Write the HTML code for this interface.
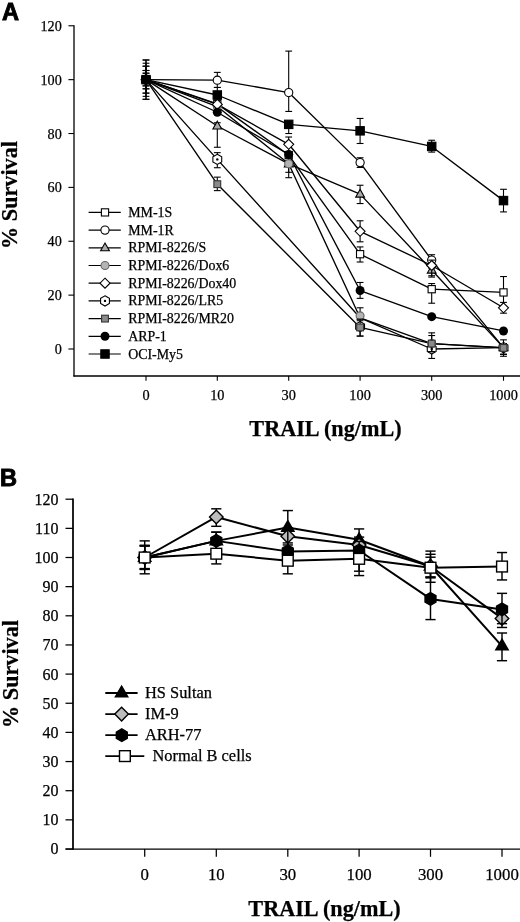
<!DOCTYPE html><html><head><meta charset="utf-8"><style>
html,body{margin:0;padding:0;background:#fff;}body{width:520px;height:922px;overflow:hidden;}
svg{display:block;filter:grayscale(1);} .t{font-family:"Liberation Serif",serif;fill:#000;stroke:#000;stroke-width:0.25px;} .s{font-family:"Liberation Sans",sans-serif;font-weight:bold;fill:#000;}
</style></head><body>
<svg width="520" height="922" viewBox="0 0 520 922">
<text class="s" x="1.9" y="19.9" font-size="23.6" stroke="#000" stroke-width="0.9">A</text>
<g stroke="#000" stroke-width="1.3" fill="none">
<line x1="74" y1="25.2" x2="74" y2="376.6"/>
<line x1="73.4" y1="376" x2="520" y2="376"/>
</g><g stroke="#000" stroke-width="1.1" fill="none">
<line x1="68.4" y1="349" x2="74" y2="349"/>
<line x1="68.4" y1="295.13" x2="74" y2="295.13"/>
<line x1="68.4" y1="241.26" x2="74" y2="241.26"/>
<line x1="68.4" y1="187.39" x2="74" y2="187.39"/>
<line x1="68.4" y1="133.52" x2="74" y2="133.52"/>
<line x1="68.4" y1="79.65" x2="74" y2="79.65"/>
<line x1="68.4" y1="25.78" x2="74" y2="25.78"/>
<line x1="146" y1="376" x2="146" y2="380.8"/>
<line x1="217.3" y1="376" x2="217.3" y2="380.8"/>
<line x1="288.7" y1="376" x2="288.7" y2="380.8"/>
<line x1="360.1" y1="376" x2="360.1" y2="380.8"/>
<line x1="431.7" y1="376" x2="431.7" y2="380.8"/>
<line x1="503.5" y1="376" x2="503.5" y2="380.8"/>
</g>
<text class="t" x="61.8" y="354.1" font-size="14.2" text-anchor="end">0</text>
<text class="t" x="61.8" y="300.23" font-size="14.2" text-anchor="end">20</text>
<text class="t" x="61.8" y="246.36" font-size="14.2" text-anchor="end">40</text>
<text class="t" x="61.8" y="192.49" font-size="14.2" text-anchor="end">60</text>
<text class="t" x="61.8" y="138.62" font-size="14.2" text-anchor="end">80</text>
<text class="t" x="61.8" y="84.75" font-size="14.2" text-anchor="end">100</text>
<text class="t" x="61.8" y="30.88" font-size="14.2" text-anchor="end">120</text>
<text class="t" x="146" y="400" font-size="14.3" text-anchor="middle">0</text>
<text class="t" x="217.3" y="400" font-size="14.3" text-anchor="middle">10</text>
<text class="t" x="288.7" y="400" font-size="14.3" text-anchor="middle">30</text>
<text class="t" x="360.1" y="400" font-size="14.3" text-anchor="middle">100</text>
<text class="t" x="431.7" y="400" font-size="14.3" text-anchor="middle">300</text>
<text class="t" x="503.5" y="400" font-size="14.3" text-anchor="middle">1000</text>
<text class="t" x="325.5" y="435.8" font-size="22.2" font-weight="bold" text-anchor="middle">TRAIL (ng/mL)</text>
<text class="t" x="0" y="0" font-size="22.2" font-weight="bold" text-anchor="middle" transform="translate(17.2,195) rotate(-90)">% Survival</text>
<g stroke="#000" stroke-width="1.35" fill="none" stroke-linejoin="round">
<polyline points="146,79.65 217.3,103.89 288.7,155.07 360.1,254.19 431.7,289.2 503.5,292.44"/>
<polyline points="146,79.65 217.3,80.19 288.7,92.58 360.1,162.61 431.7,260.11 503.5,347.65"/>
<polyline points="146,79.65 217.3,125.98 288.7,163.96 360.1,194.12 431.7,270.08 503.5,347.65"/>
<polyline points="146,79.65 217.3,106.59 288.7,163.69 360.1,317.76 431.7,343.61 503.5,347.65"/>
<polyline points="146,79.65 217.3,104.43 288.7,144.29 360.1,231.29 431.7,265.5 503.5,307.79"/>
<polyline points="146,79.65 217.3,159.38 360.1,317.76 431.7,349 503.5,347.65"/>
<polyline points="146,79.65 217.3,184.16 360.1,327.45 431.7,343.61 503.5,347.92"/>
<polyline points="146,79.65 217.3,112.24 288.7,154.53 360.1,290.55 431.7,316.68 503.5,330.95"/>
<polyline points="146,79.65 217.3,95 288.7,124.36 360.1,130.83 431.7,146.45 503.5,200.59"/>
</g>
<line x1="146" y1="70.49" x2="146" y2="88.81" stroke="#000" stroke-width="1.1"/><line x1="142.6" y1="70.49" x2="149.4" y2="70.49" stroke="#000" stroke-width="1.1"/><line x1="142.6" y1="88.81" x2="149.4" y2="88.81" stroke="#000" stroke-width="1.1"/>
<line x1="360.1" y1="246.92" x2="360.1" y2="262" stroke="#000" stroke-width="1.1"/><line x1="356.7" y1="246.92" x2="363.5" y2="246.92" stroke="#000" stroke-width="1.1"/><line x1="356.7" y1="262" x2="363.5" y2="262" stroke="#000" stroke-width="1.1"/>
<line x1="431.7" y1="283.55" x2="431.7" y2="303.21" stroke="#000" stroke-width="1.1"/><line x1="428.3" y1="283.55" x2="435.1" y2="283.55" stroke="#000" stroke-width="1.1"/><line x1="428.3" y1="303.21" x2="435.1" y2="303.21" stroke="#000" stroke-width="1.1"/>
<line x1="503.5" y1="276.54" x2="503.5" y2="307.25" stroke="#000" stroke-width="1.1"/><line x1="500.1" y1="276.54" x2="506.9" y2="276.54" stroke="#000" stroke-width="1.1"/><line x1="500.1" y1="307.25" x2="506.9" y2="307.25" stroke="#000" stroke-width="1.1"/>
<rect x="142.4" y="76.05" width="7.2" height="7.2" fill="#fff" stroke="#000" stroke-width="1.1"/>
<rect x="213.7" y="100.29" width="7.2" height="7.2" fill="#fff" stroke="#000" stroke-width="1.1"/>
<rect x="285.1" y="151.47" width="7.2" height="7.2" fill="#fff" stroke="#000" stroke-width="1.1"/>
<rect x="356.5" y="250.59" width="7.2" height="7.2" fill="#fff" stroke="#000" stroke-width="1.1"/>
<rect x="428.1" y="285.6" width="7.2" height="7.2" fill="#fff" stroke="#000" stroke-width="1.1"/>
<rect x="499.9" y="288.84" width="7.2" height="7.2" fill="#fff" stroke="#000" stroke-width="1.1"/>
<line x1="146" y1="73.19" x2="146" y2="85.85" stroke="#000" stroke-width="1.1"/><line x1="142.6" y1="73.19" x2="149.4" y2="73.19" stroke="#000" stroke-width="1.1"/><line x1="142.6" y1="85.85" x2="149.4" y2="85.85" stroke="#000" stroke-width="1.1"/>
<line x1="217.3" y1="72.38" x2="217.3" y2="87.46" stroke="#000" stroke-width="1.1"/><line x1="213.9" y1="72.38" x2="220.7" y2="72.38" stroke="#000" stroke-width="1.1"/><line x1="213.9" y1="87.46" x2="220.7" y2="87.46" stroke="#000" stroke-width="1.1"/>
<line x1="288.7" y1="51.1" x2="288.7" y2="111.43" stroke="#000" stroke-width="1.1"/><line x1="285.3" y1="51.1" x2="292.1" y2="51.1" stroke="#000" stroke-width="1.1"/><line x1="285.3" y1="111.43" x2="292.1" y2="111.43" stroke="#000" stroke-width="1.1"/>
<line x1="360.1" y1="157.76" x2="360.1" y2="167.46" stroke="#000" stroke-width="1.1"/><line x1="356.7" y1="157.76" x2="363.5" y2="157.76" stroke="#000" stroke-width="1.1"/><line x1="356.7" y1="167.46" x2="363.5" y2="167.46" stroke="#000" stroke-width="1.1"/>
<line x1="431.7" y1="254.73" x2="431.7" y2="268.19" stroke="#000" stroke-width="1.1"/><line x1="428.3" y1="254.73" x2="435.1" y2="254.73" stroke="#000" stroke-width="1.1"/><line x1="428.3" y1="268.19" x2="435.1" y2="268.19" stroke="#000" stroke-width="1.1"/>
<line x1="503.5" y1="343.61" x2="503.5" y2="354.39" stroke="#000" stroke-width="1.1"/><line x1="500.1" y1="343.61" x2="506.9" y2="343.61" stroke="#000" stroke-width="1.1"/><line x1="500.1" y1="354.39" x2="506.9" y2="354.39" stroke="#000" stroke-width="1.1"/>
<circle cx="146" cy="79.65" r="4.1" fill="#fff" stroke="#000" stroke-width="1.1"/>
<circle cx="217.3" cy="80.19" r="4.1" fill="#fff" stroke="#000" stroke-width="1.1"/>
<circle cx="288.7" cy="92.58" r="4.1" fill="#fff" stroke="#000" stroke-width="1.1"/>
<circle cx="360.1" cy="162.61" r="4.1" fill="#fff" stroke="#000" stroke-width="1.1"/>
<circle cx="431.7" cy="260.11" r="4.1" fill="#fff" stroke="#000" stroke-width="1.1"/>
<circle cx="503.5" cy="347.65" r="4.1" fill="#fff" stroke="#000" stroke-width="1.1"/>
<line x1="146" y1="66.18" x2="146" y2="93.12" stroke="#000" stroke-width="1.1"/><line x1="142.6" y1="66.18" x2="149.4" y2="66.18" stroke="#000" stroke-width="1.1"/><line x1="142.6" y1="93.12" x2="149.4" y2="93.12" stroke="#000" stroke-width="1.1"/>
<line x1="217.3" y1="122.75" x2="217.3" y2="147.26" stroke="#000" stroke-width="1.1"/><line x1="213.9" y1="122.75" x2="220.7" y2="122.75" stroke="#000" stroke-width="1.1"/><line x1="213.9" y1="147.26" x2="220.7" y2="147.26" stroke="#000" stroke-width="1.1"/>
<line x1="288.7" y1="160.46" x2="288.7" y2="172.31" stroke="#000" stroke-width="1.1"/><line x1="285.3" y1="160.46" x2="292.1" y2="160.46" stroke="#000" stroke-width="1.1"/><line x1="285.3" y1="172.31" x2="292.1" y2="172.31" stroke="#000" stroke-width="1.1"/>
<line x1="360.1" y1="185.24" x2="360.1" y2="203.55" stroke="#000" stroke-width="1.1"/><line x1="356.7" y1="185.24" x2="363.5" y2="185.24" stroke="#000" stroke-width="1.1"/><line x1="356.7" y1="203.55" x2="363.5" y2="203.55" stroke="#000" stroke-width="1.1"/>
<line x1="431.7" y1="265.5" x2="431.7" y2="277.08" stroke="#000" stroke-width="1.1"/><line x1="428.3" y1="265.5" x2="435.1" y2="265.5" stroke="#000" stroke-width="1.1"/><line x1="428.3" y1="277.08" x2="435.1" y2="277.08" stroke="#000" stroke-width="1.1"/>
<line x1="503.5" y1="343.61" x2="503.5" y2="354.39" stroke="#000" stroke-width="1.1"/><line x1="500.1" y1="343.61" x2="506.9" y2="343.61" stroke="#000" stroke-width="1.1"/><line x1="500.1" y1="354.39" x2="506.9" y2="354.39" stroke="#000" stroke-width="1.1"/>
<polygon points="146,74.85 150.4,82.65 141.6,82.65" fill="#aaa" stroke="#000" stroke-width="1.1"/>
<polygon points="217.3,121.18 221.7,128.98 212.9,128.98" fill="#aaa" stroke="#000" stroke-width="1.1"/>
<polygon points="288.7,159.16 293.1,166.96 284.3,166.96" fill="#aaa" stroke="#000" stroke-width="1.1"/>
<polygon points="360.1,189.32 364.5,197.12 355.7,197.12" fill="#aaa" stroke="#000" stroke-width="1.1"/>
<polygon points="431.7,265.28 436.1,273.08 427.3,273.08" fill="#aaa" stroke="#000" stroke-width="1.1"/>
<polygon points="503.5,342.85 507.9,350.65 499.1,350.65" fill="#aaa" stroke="#000" stroke-width="1.1"/>
<line x1="146" y1="59.99" x2="146" y2="99.31" stroke="#000" stroke-width="1.1"/><line x1="142.6" y1="59.99" x2="149.4" y2="59.99" stroke="#000" stroke-width="1.1"/><line x1="142.6" y1="99.31" x2="149.4" y2="99.31" stroke="#000" stroke-width="1.1"/>
<line x1="217.3" y1="152.64" x2="217.3" y2="167.73" stroke="#000" stroke-width="1.1"/><line x1="213.9" y1="152.64" x2="220.7" y2="152.64" stroke="#000" stroke-width="1.1"/><line x1="213.9" y1="167.73" x2="220.7" y2="167.73" stroke="#000" stroke-width="1.1"/>
<line x1="360.1" y1="319.37" x2="360.1" y2="336.07" stroke="#000" stroke-width="1.1"/><line x1="356.7" y1="319.37" x2="363.5" y2="319.37" stroke="#000" stroke-width="1.1"/><line x1="356.7" y1="336.07" x2="363.5" y2="336.07" stroke="#000" stroke-width="1.1"/>
<line x1="431.7" y1="343.61" x2="431.7" y2="358.43" stroke="#000" stroke-width="1.1"/><line x1="428.3" y1="343.61" x2="435.1" y2="343.61" stroke="#000" stroke-width="1.1"/><line x1="428.3" y1="358.43" x2="435.1" y2="358.43" stroke="#000" stroke-width="1.1"/>
<line x1="503.5" y1="343.61" x2="503.5" y2="354.39" stroke="#000" stroke-width="1.1"/><line x1="500.1" y1="343.61" x2="506.9" y2="343.61" stroke="#000" stroke-width="1.1"/><line x1="500.1" y1="354.39" x2="506.9" y2="354.39" stroke="#000" stroke-width="1.1"/>
<polygon points="146,74.55 150.42,77.1 150.42,82.2 146,84.75 141.58,82.2 141.58,77.1" fill="#fff" stroke="#000" stroke-width="1.1"/><circle cx="146" cy="79.65" r="1.2" fill="#000"/>
<polygon points="217.3,154.28 221.72,156.83 221.72,161.93 217.3,164.48 212.88,161.93 212.88,156.83" fill="#fff" stroke="#000" stroke-width="1.1"/><circle cx="217.3" cy="159.38" r="1.2" fill="#000"/>
<polygon points="360.1,321.54 364.52,324.09 364.52,329.19 360.1,331.74 355.68,329.19 355.68,324.09" fill="#fff" stroke="#000" stroke-width="1.1"/><circle cx="360.1" cy="326.64" r="1.2" fill="#000"/>
<polygon points="431.7,343.9 436.12,346.45 436.12,351.55 431.7,354.1 427.28,351.55 427.28,346.45" fill="#fff" stroke="#000" stroke-width="1.1"/><circle cx="431.7" cy="349" r="1.2" fill="#000"/>
<polygon points="503.5,342.55 507.92,345.1 507.92,350.2 503.5,352.75 499.08,350.2 499.08,345.1" fill="#fff" stroke="#000" stroke-width="1.1"/><circle cx="503.5" cy="347.65" r="1.2" fill="#000"/>
<line x1="146" y1="66.18" x2="146" y2="93.12" stroke="#000" stroke-width="1.1"/><line x1="142.6" y1="66.18" x2="149.4" y2="66.18" stroke="#000" stroke-width="1.1"/><line x1="142.6" y1="93.12" x2="149.4" y2="93.12" stroke="#000" stroke-width="1.1"/>
<line x1="288.7" y1="160.46" x2="288.7" y2="177.69" stroke="#000" stroke-width="1.1"/><line x1="285.3" y1="160.46" x2="292.1" y2="160.46" stroke="#000" stroke-width="1.1"/><line x1="285.3" y1="177.69" x2="292.1" y2="177.69" stroke="#000" stroke-width="1.1"/>
<line x1="360.1" y1="307.79" x2="360.1" y2="320.72" stroke="#000" stroke-width="1.1"/><line x1="356.7" y1="307.79" x2="363.5" y2="307.79" stroke="#000" stroke-width="1.1"/><line x1="356.7" y1="320.72" x2="363.5" y2="320.72" stroke="#000" stroke-width="1.1"/>
<line x1="431.7" y1="335.53" x2="431.7" y2="351.69" stroke="#000" stroke-width="1.1"/><line x1="428.3" y1="335.53" x2="435.1" y2="335.53" stroke="#000" stroke-width="1.1"/><line x1="428.3" y1="351.69" x2="435.1" y2="351.69" stroke="#000" stroke-width="1.1"/>
<line x1="503.5" y1="343.61" x2="503.5" y2="354.39" stroke="#000" stroke-width="1.1"/><line x1="500.1" y1="343.61" x2="506.9" y2="343.61" stroke="#000" stroke-width="1.1"/><line x1="500.1" y1="354.39" x2="506.9" y2="354.39" stroke="#000" stroke-width="1.1"/>
<circle cx="146" cy="79.65" r="4" fill="#b4b4b4" stroke="#666" stroke-width="1.1"/>
<circle cx="217.3" cy="106.59" r="4" fill="#b4b4b4" stroke="#666" stroke-width="1.1"/>
<circle cx="288.7" cy="163.69" r="4" fill="#b4b4b4" stroke="#666" stroke-width="1.1"/>
<circle cx="360.1" cy="315.87" r="4" fill="#b4b4b4" stroke="#666" stroke-width="1.1"/>
<circle cx="431.7" cy="343.61" r="4" fill="#b4b4b4" stroke="#666" stroke-width="1.1"/>
<circle cx="503.5" cy="347.65" r="4" fill="#b4b4b4" stroke="#666" stroke-width="1.1"/>
<line x1="146" y1="63.22" x2="146" y2="96.35" stroke="#000" stroke-width="1.1"/><line x1="142.6" y1="63.22" x2="149.4" y2="63.22" stroke="#000" stroke-width="1.1"/><line x1="142.6" y1="96.35" x2="149.4" y2="96.35" stroke="#000" stroke-width="1.1"/>
<line x1="217.3" y1="99.85" x2="217.3" y2="106.59" stroke="#000" stroke-width="1.1"/><line x1="213.9" y1="99.85" x2="220.7" y2="99.85" stroke="#000" stroke-width="1.1"/><line x1="213.9" y1="106.59" x2="220.7" y2="106.59" stroke="#000" stroke-width="1.1"/>
<line x1="288.7" y1="137.02" x2="288.7" y2="152.37" stroke="#000" stroke-width="1.1"/><line x1="285.3" y1="137.02" x2="292.1" y2="137.02" stroke="#000" stroke-width="1.1"/><line x1="285.3" y1="152.37" x2="292.1" y2="152.37" stroke="#000" stroke-width="1.1"/>
<line x1="360.1" y1="220.79" x2="360.1" y2="241.8" stroke="#000" stroke-width="1.1"/><line x1="356.7" y1="220.79" x2="363.5" y2="220.79" stroke="#000" stroke-width="1.1"/><line x1="356.7" y1="241.8" x2="363.5" y2="241.8" stroke="#000" stroke-width="1.1"/>
<line x1="431.7" y1="260.11" x2="431.7" y2="275.74" stroke="#000" stroke-width="1.1"/><line x1="428.3" y1="260.11" x2="435.1" y2="260.11" stroke="#000" stroke-width="1.1"/><line x1="428.3" y1="275.74" x2="435.1" y2="275.74" stroke="#000" stroke-width="1.1"/>
<line x1="503.5" y1="302.4" x2="503.5" y2="313.18" stroke="#000" stroke-width="1.1"/><line x1="500.1" y1="302.4" x2="506.9" y2="302.4" stroke="#000" stroke-width="1.1"/><line x1="500.1" y1="313.18" x2="506.9" y2="313.18" stroke="#000" stroke-width="1.1"/>
<polygon points="146,74.65 151,79.65 146,84.65 141,79.65" fill="#fff" stroke="#000" stroke-width="1.1"/>
<polygon points="217.3,99.43 222.3,104.43 217.3,109.43 212.3,104.43" fill="#fff" stroke="#000" stroke-width="1.1"/>
<polygon points="288.7,139.29 293.7,144.29 288.7,149.29 283.7,144.29" fill="#fff" stroke="#000" stroke-width="1.1"/>
<polygon points="360.1,226.29 365.1,231.29 360.1,236.29 355.1,231.29" fill="#fff" stroke="#000" stroke-width="1.1"/>
<polygon points="431.7,260.5 436.7,265.5 431.7,270.5 426.7,265.5" fill="#fff" stroke="#000" stroke-width="1.1"/>
<polygon points="503.5,302.79 508.5,307.79 503.5,312.79 498.5,307.79" fill="#fff" stroke="#000" stroke-width="1.1"/>
<line x1="146" y1="59.99" x2="146" y2="99.31" stroke="#000" stroke-width="1.1"/><line x1="142.6" y1="59.99" x2="149.4" y2="59.99" stroke="#000" stroke-width="1.1"/><line x1="142.6" y1="99.31" x2="149.4" y2="99.31" stroke="#000" stroke-width="1.1"/>
<line x1="217.3" y1="177.15" x2="217.3" y2="190.62" stroke="#000" stroke-width="1.1"/><line x1="213.9" y1="177.15" x2="220.7" y2="177.15" stroke="#000" stroke-width="1.1"/><line x1="213.9" y1="190.62" x2="220.7" y2="190.62" stroke="#000" stroke-width="1.1"/>
<line x1="360.1" y1="319.1" x2="360.1" y2="336.07" stroke="#000" stroke-width="1.1"/><line x1="356.7" y1="319.1" x2="363.5" y2="319.1" stroke="#000" stroke-width="1.1"/><line x1="356.7" y1="336.07" x2="363.5" y2="336.07" stroke="#000" stroke-width="1.1"/>
<line x1="431.7" y1="332.84" x2="431.7" y2="351.69" stroke="#000" stroke-width="1.1"/><line x1="428.3" y1="332.84" x2="435.1" y2="332.84" stroke="#000" stroke-width="1.1"/><line x1="428.3" y1="351.69" x2="435.1" y2="351.69" stroke="#000" stroke-width="1.1"/>
<line x1="503.5" y1="339.84" x2="503.5" y2="356.27" stroke="#000" stroke-width="1.1"/><line x1="500.1" y1="339.84" x2="506.9" y2="339.84" stroke="#000" stroke-width="1.1"/><line x1="500.1" y1="356.27" x2="506.9" y2="356.27" stroke="#000" stroke-width="1.1"/>
<rect x="142.6" y="76.25" width="6.8" height="6.8" fill="#8a8a8a" stroke="#333" stroke-width="1.1"/>
<rect x="213.9" y="180.76" width="6.8" height="6.8" fill="#8a8a8a" stroke="#333" stroke-width="1.1"/>
<rect x="356.7" y="324.05" width="6.8" height="6.8" fill="#8a8a8a" stroke="#333" stroke-width="1.1"/>
<rect x="428.3" y="340.21" width="6.8" height="6.8" fill="#8a8a8a" stroke="#333" stroke-width="1.1"/>
<rect x="500.1" y="344.52" width="6.8" height="6.8" fill="#8a8a8a" stroke="#333" stroke-width="1.1"/>
<line x1="146" y1="70.49" x2="146" y2="88.81" stroke="#000" stroke-width="1.1"/><line x1="142.6" y1="70.49" x2="149.4" y2="70.49" stroke="#000" stroke-width="1.1"/><line x1="142.6" y1="88.81" x2="149.4" y2="88.81" stroke="#000" stroke-width="1.1"/>
<line x1="360.1" y1="282.47" x2="360.1" y2="298.36" stroke="#000" stroke-width="1.1"/><line x1="356.7" y1="282.47" x2="363.5" y2="282.47" stroke="#000" stroke-width="1.1"/><line x1="356.7" y1="298.36" x2="363.5" y2="298.36" stroke="#000" stroke-width="1.1"/>
<circle cx="146" cy="79.65" r="4.5" fill="#000"/>
<circle cx="217.3" cy="112.24" r="4.5" fill="#000"/>
<circle cx="288.7" cy="154.53" r="4.5" fill="#000"/>
<circle cx="360.1" cy="290.55" r="4.5" fill="#000"/>
<circle cx="431.7" cy="316.68" r="4.5" fill="#000"/>
<circle cx="503.5" cy="330.95" r="4.5" fill="#000"/>
<line x1="146" y1="73.19" x2="146" y2="85.85" stroke="#000" stroke-width="1.1"/><line x1="142.6" y1="73.19" x2="149.4" y2="73.19" stroke="#000" stroke-width="1.1"/><line x1="142.6" y1="85.85" x2="149.4" y2="85.85" stroke="#000" stroke-width="1.1"/>
<line x1="217.3" y1="87.46" x2="217.3" y2="98.5" stroke="#000" stroke-width="1.1"/><line x1="213.9" y1="87.46" x2="220.7" y2="87.46" stroke="#000" stroke-width="1.1"/><line x1="213.9" y1="98.5" x2="220.7" y2="98.5" stroke="#000" stroke-width="1.1"/>
<line x1="288.7" y1="121.4" x2="288.7" y2="133.52" stroke="#000" stroke-width="1.1"/><line x1="285.3" y1="121.4" x2="292.1" y2="121.4" stroke="#000" stroke-width="1.1"/><line x1="285.3" y1="133.52" x2="292.1" y2="133.52" stroke="#000" stroke-width="1.1"/>
<line x1="360.1" y1="118.44" x2="360.1" y2="143.49" stroke="#000" stroke-width="1.1"/><line x1="356.7" y1="118.44" x2="363.5" y2="118.44" stroke="#000" stroke-width="1.1"/><line x1="356.7" y1="143.49" x2="363.5" y2="143.49" stroke="#000" stroke-width="1.1"/>
<line x1="431.7" y1="140.25" x2="431.7" y2="152.11" stroke="#000" stroke-width="1.1"/><line x1="428.3" y1="140.25" x2="435.1" y2="140.25" stroke="#000" stroke-width="1.1"/><line x1="428.3" y1="152.11" x2="435.1" y2="152.11" stroke="#000" stroke-width="1.1"/>
<line x1="503.5" y1="189.28" x2="503.5" y2="211.9" stroke="#000" stroke-width="1.1"/><line x1="500.1" y1="189.28" x2="506.9" y2="189.28" stroke="#000" stroke-width="1.1"/><line x1="500.1" y1="211.9" x2="506.9" y2="211.9" stroke="#000" stroke-width="1.1"/>
<rect x="141.8" y="75.45" width="8.4" height="8.4" fill="#000" stroke="#000" stroke-width="1.1"/>
<rect x="213.1" y="90.8" width="8.4" height="8.4" fill="#000" stroke="#000" stroke-width="1.1"/>
<rect x="284.5" y="120.16" width="8.4" height="8.4" fill="#000" stroke="#000" stroke-width="1.1"/>
<rect x="355.9" y="126.63" width="8.4" height="8.4" fill="#000" stroke="#000" stroke-width="1.1"/>
<rect x="427.5" y="142.25" width="8.4" height="8.4" fill="#000" stroke="#000" stroke-width="1.1"/>
<rect x="499.3" y="196.39" width="8.4" height="8.4" fill="#000" stroke="#000" stroke-width="1.1"/>
<line x1="88.6" y1="212.4" x2="120.8" y2="212.4" stroke="#000" stroke-width="1.2"/>
<rect x="101.4" y="208.8" width="7.2" height="7.2" fill="#fff" stroke="#000" stroke-width="1.1"/>
<text class="t" x="128.2" y="216.9" font-size="13.9">MM-1S</text>
<line x1="88.6" y1="230.1" x2="120.8" y2="230.1" stroke="#000" stroke-width="1.2"/>
<circle cx="105" cy="230.1" r="4.1" fill="#fff" stroke="#000" stroke-width="1.1"/>
<text class="t" x="128.2" y="234.6" font-size="13.9">MM-1R</text>
<line x1="88.6" y1="247.8" x2="120.8" y2="247.8" stroke="#000" stroke-width="1.2"/>
<polygon points="105,243 109.4,250.8 100.6,250.8" fill="#aaa" stroke="#000" stroke-width="1.1"/>
<text class="t" x="128.2" y="252.3" font-size="13.9">RPMI-8226/S</text>
<line x1="88.6" y1="265.5" x2="120.8" y2="265.5" stroke="#000" stroke-width="1.2"/>
<circle cx="105" cy="265.5" r="4" fill="#b4b4b4" stroke="#666" stroke-width="1.1"/>
<text class="t" x="128.2" y="270" font-size="13.9">RPMI-8226/Dox6</text>
<line x1="88.6" y1="283.2" x2="120.8" y2="283.2" stroke="#000" stroke-width="1.2"/>
<polygon points="105,278.2 110,283.2 105,288.2 100,283.2" fill="#fff" stroke="#000" stroke-width="1.1"/>
<text class="t" x="128.2" y="287.7" font-size="13.9">RPMI-8226/Dox40</text>
<line x1="88.6" y1="300.9" x2="120.8" y2="300.9" stroke="#000" stroke-width="1.2"/>
<polygon points="105,295.8 109.42,298.35 109.42,303.45 105,306 100.58,303.45 100.58,298.35" fill="#fff" stroke="#000" stroke-width="1.1"/><circle cx="105" cy="300.9" r="1.2" fill="#000"/>
<text class="t" x="128.2" y="305.4" font-size="13.9">RPMI-8226/LR5</text>
<line x1="88.6" y1="318.6" x2="120.8" y2="318.6" stroke="#000" stroke-width="1.2"/>
<rect x="101.6" y="315.2" width="6.8" height="6.8" fill="#8a8a8a" stroke="#333" stroke-width="1.1"/>
<text class="t" x="128.2" y="323.1" font-size="13.9">RPMI-8226/MR20</text>
<line x1="88.6" y1="336.3" x2="120.8" y2="336.3" stroke="#000" stroke-width="1.2"/>
<circle cx="105" cy="336.3" r="4.5" fill="#000"/>
<text class="t" x="128.2" y="340.8" font-size="13.9">ARP-1</text>
<line x1="88.6" y1="354" x2="120.8" y2="354" stroke="#000" stroke-width="1.2"/>
<rect x="100.8" y="349.8" width="8.4" height="8.4" fill="#000" stroke="#000" stroke-width="1.1"/>
<text class="t" x="128.2" y="358.5" font-size="13.9">OCI-My5</text>
<text class="s" x="-0.1" y="485.6" font-size="23.6" stroke="#000" stroke-width="0.9">B</text>
<g stroke="#000" stroke-width="1.75" fill="none">
<line x1="73" y1="498.6" x2="73" y2="849.8"/>
</g><g stroke="#000" stroke-width="1.45" fill="none">
<line x1="65.5" y1="849.1" x2="520" y2="849.1"/>
</g><g stroke="#000" stroke-width="1.25" fill="none">
<line x1="65.5" y1="849" x2="73" y2="849"/>
<line x1="65.5" y1="819.85" x2="73" y2="819.85"/>
<line x1="65.5" y1="790.7" x2="73" y2="790.7"/>
<line x1="65.5" y1="761.55" x2="73" y2="761.55"/>
<line x1="65.5" y1="732.4" x2="73" y2="732.4"/>
<line x1="65.5" y1="703.25" x2="73" y2="703.25"/>
<line x1="65.5" y1="674.1" x2="73" y2="674.1"/>
<line x1="65.5" y1="644.95" x2="73" y2="644.95"/>
<line x1="65.5" y1="615.8" x2="73" y2="615.8"/>
<line x1="65.5" y1="586.65" x2="73" y2="586.65"/>
<line x1="65.5" y1="557.5" x2="73" y2="557.5"/>
<line x1="65.5" y1="528.35" x2="73" y2="528.35"/>
<line x1="65.5" y1="499.2" x2="73" y2="499.2"/>
<line x1="144.7" y1="849.1" x2="144.7" y2="856.8"/>
<line x1="216.3" y1="849.1" x2="216.3" y2="856.8"/>
<line x1="287.8" y1="849.1" x2="287.8" y2="856.8"/>
<line x1="359.1" y1="849.1" x2="359.1" y2="856.8"/>
<line x1="430.5" y1="849.1" x2="430.5" y2="856.8"/>
<line x1="502.0" y1="849.1" x2="502.0" y2="856.8"/>
</g>
<text class="t" x="58.4" y="854.4" font-size="16" text-anchor="end">0</text>
<text class="t" x="58.4" y="825.25" font-size="16" text-anchor="end">10</text>
<text class="t" x="58.4" y="796.1" font-size="16" text-anchor="end">20</text>
<text class="t" x="58.4" y="766.95" font-size="16" text-anchor="end">30</text>
<text class="t" x="58.4" y="737.8" font-size="16" text-anchor="end">40</text>
<text class="t" x="58.4" y="708.65" font-size="16" text-anchor="end">50</text>
<text class="t" x="58.4" y="679.5" font-size="16" text-anchor="end">60</text>
<text class="t" x="58.4" y="650.35" font-size="16" text-anchor="end">70</text>
<text class="t" x="58.4" y="621.2" font-size="16" text-anchor="end">80</text>
<text class="t" x="58.4" y="592.05" font-size="16" text-anchor="end">90</text>
<text class="t" x="58.4" y="562.9" font-size="16" text-anchor="end">100</text>
<text class="t" x="58.4" y="533.75" font-size="16" text-anchor="end">110</text>
<text class="t" x="58.4" y="504.6" font-size="16" text-anchor="end">120</text>
<text class="t" x="144.7" y="879.8" font-size="16.8" text-anchor="middle">0</text>
<text class="t" x="216.3" y="879.8" font-size="16.8" text-anchor="middle">10</text>
<text class="t" x="287.8" y="879.8" font-size="16.8" text-anchor="middle">30</text>
<text class="t" x="359.1" y="879.8" font-size="16.8" text-anchor="middle">100</text>
<text class="t" x="430.5" y="879.8" font-size="16.8" text-anchor="middle">300</text>
<text class="t" x="502.0" y="879.8" font-size="16.8" text-anchor="middle">1000</text>
<text class="t" x="324.5" y="916" font-size="22.2" font-weight="bold" text-anchor="middle">TRAIL (ng/mL)</text>
<text class="t" x="0" y="0" font-size="22.2" font-weight="bold" text-anchor="middle" transform="translate(18.2,674) rotate(-90)">% Survival</text>
<g stroke="#000" stroke-width="2" fill="none" stroke-linejoin="round">
<polyline points="144.7,557.5 216.3,540.88 287.8,527.48 359.1,539.72 430.5,566.25 502,646.12"/>
<polyline points="144.7,557.5 216.3,516.98 287.8,536.22 359.1,544.97 430.5,566.25 502,618.42"/>
<polyline points="144.7,557.5 216.3,540.88 287.8,551.38 359.1,550.5 430.5,598.89 502,609.39"/>
<polyline points="144.7,557.5 216.3,553.71 287.8,560.71 359.1,558.81 430.5,567.7 502,566.54"/>
</g>
<line x1="144.7" y1="545.26" x2="144.7" y2="568.58" stroke="#000" stroke-width="1.45"/><line x1="139.6" y1="545.26" x2="149.8" y2="545.26" stroke="#000" stroke-width="1.45"/><line x1="139.6" y1="568.58" x2="149.8" y2="568.58" stroke="#000" stroke-width="1.45"/>
<line x1="216.3" y1="532.14" x2="216.3" y2="548.75" stroke="#000" stroke-width="1.45"/><line x1="211.2" y1="532.14" x2="221.4" y2="532.14" stroke="#000" stroke-width="1.45"/><line x1="211.2" y1="548.75" x2="221.4" y2="548.75" stroke="#000" stroke-width="1.45"/>
<line x1="287.8" y1="510.57" x2="287.8" y2="544.97" stroke="#000" stroke-width="1.45"/><line x1="282.7" y1="510.57" x2="292.9" y2="510.57" stroke="#000" stroke-width="1.45"/><line x1="282.7" y1="544.97" x2="292.9" y2="544.97" stroke="#000" stroke-width="1.45"/>
<line x1="359.1" y1="528.93" x2="359.1" y2="547.3" stroke="#000" stroke-width="1.45"/><line x1="354" y1="528.93" x2="364.2" y2="528.93" stroke="#000" stroke-width="1.45"/><line x1="354" y1="547.3" x2="364.2" y2="547.3" stroke="#000" stroke-width="1.45"/>
<line x1="430.5" y1="551.09" x2="430.5" y2="582.28" stroke="#000" stroke-width="1.45"/><line x1="425.4" y1="551.09" x2="435.6" y2="551.09" stroke="#000" stroke-width="1.45"/><line x1="425.4" y1="582.28" x2="435.6" y2="582.28" stroke="#000" stroke-width="1.45"/>
<line x1="502" y1="633" x2="502" y2="660.69" stroke="#000" stroke-width="1.45"/><line x1="496.9" y1="633" x2="507.1" y2="633" stroke="#000" stroke-width="1.45"/><line x1="496.9" y1="660.69" x2="507.1" y2="660.69" stroke="#000" stroke-width="1.45"/>
<polygon points="144.7,550.6 150.9,561.3 138.5,561.3" fill="#000" stroke="#000" stroke-width="1.4"/>
<polygon points="216.3,533.98 222.5,544.68 210.1,544.68" fill="#000" stroke="#000" stroke-width="1.4"/>
<polygon points="287.8,520.58 294,531.28 281.6,531.28" fill="#000" stroke="#000" stroke-width="1.4"/>
<polygon points="359.1,532.82 365.3,543.52 352.9,543.52" fill="#000" stroke="#000" stroke-width="1.4"/>
<polygon points="430.5,559.35 436.7,570.04 424.3,570.04" fill="#000" stroke="#000" stroke-width="1.4"/>
<polygon points="502,639.22 508.2,649.92 495.8,649.92" fill="#000" stroke="#000" stroke-width="1.4"/>
<line x1="144.7" y1="546.13" x2="144.7" y2="569.45" stroke="#000" stroke-width="1.45"/><line x1="139.6" y1="546.13" x2="149.8" y2="546.13" stroke="#000" stroke-width="1.45"/><line x1="139.6" y1="569.45" x2="149.8" y2="569.45" stroke="#000" stroke-width="1.45"/>
<line x1="216.3" y1="508.82" x2="216.3" y2="526.31" stroke="#000" stroke-width="1.45"/><line x1="211.2" y1="508.82" x2="221.4" y2="508.82" stroke="#000" stroke-width="1.45"/><line x1="211.2" y1="526.31" x2="221.4" y2="526.31" stroke="#000" stroke-width="1.45"/>
<line x1="287.8" y1="528.35" x2="287.8" y2="542.92" stroke="#000" stroke-width="1.45"/><line x1="282.7" y1="528.35" x2="292.9" y2="528.35" stroke="#000" stroke-width="1.45"/><line x1="282.7" y1="542.92" x2="292.9" y2="542.92" stroke="#000" stroke-width="1.45"/>
<line x1="359.1" y1="537.1" x2="359.1" y2="554.59" stroke="#000" stroke-width="1.45"/><line x1="354" y1="537.1" x2="364.2" y2="537.1" stroke="#000" stroke-width="1.45"/><line x1="354" y1="554.59" x2="364.2" y2="554.59" stroke="#000" stroke-width="1.45"/>
<line x1="430.5" y1="554.29" x2="430.5" y2="577.9" stroke="#000" stroke-width="1.45"/><line x1="425.4" y1="554.29" x2="435.6" y2="554.29" stroke="#000" stroke-width="1.45"/><line x1="425.4" y1="577.9" x2="435.6" y2="577.9" stroke="#000" stroke-width="1.45"/>
<line x1="502" y1="609.97" x2="502" y2="627.46" stroke="#000" stroke-width="1.45"/><line x1="496.9" y1="609.97" x2="507.1" y2="609.97" stroke="#000" stroke-width="1.45"/><line x1="496.9" y1="627.46" x2="507.1" y2="627.46" stroke="#000" stroke-width="1.45"/>
<polygon points="144.7,550.7 151.5,557.5 144.7,564.3 137.9,557.5" fill="#bcbcbc" stroke="#000" stroke-width="1.4"/>
<polygon points="216.3,510.18 223.1,516.98 216.3,523.78 209.5,516.98" fill="#bcbcbc" stroke="#000" stroke-width="1.4"/>
<polygon points="287.8,529.42 294.6,536.22 287.8,543.02 281,536.22" fill="#bcbcbc" stroke="#000" stroke-width="1.4"/>
<polygon points="359.1,538.17 365.9,544.97 359.1,551.77 352.3,544.97" fill="#bcbcbc" stroke="#000" stroke-width="1.4"/>
<polygon points="430.5,559.45 437.3,566.25 430.5,573.04 423.7,566.25" fill="#bcbcbc" stroke="#000" stroke-width="1.4"/>
<polygon points="502,611.62 508.8,618.42 502,625.22 495.2,618.42" fill="#bcbcbc" stroke="#000" stroke-width="1.4"/>
<line x1="144.7" y1="545.84" x2="144.7" y2="569.16" stroke="#000" stroke-width="1.45"/><line x1="139.6" y1="545.84" x2="149.8" y2="545.84" stroke="#000" stroke-width="1.45"/><line x1="139.6" y1="569.16" x2="149.8" y2="569.16" stroke="#000" stroke-width="1.45"/>
<line x1="216.3" y1="532.14" x2="216.3" y2="548.75" stroke="#000" stroke-width="1.45"/><line x1="211.2" y1="532.14" x2="221.4" y2="532.14" stroke="#000" stroke-width="1.45"/><line x1="211.2" y1="548.75" x2="221.4" y2="548.75" stroke="#000" stroke-width="1.45"/>
<line x1="287.8" y1="527.77" x2="287.8" y2="560.41" stroke="#000" stroke-width="1.45"/><line x1="282.7" y1="527.77" x2="292.9" y2="527.77" stroke="#000" stroke-width="1.45"/><line x1="282.7" y1="560.41" x2="292.9" y2="560.41" stroke="#000" stroke-width="1.45"/>
<line x1="359.1" y1="541.47" x2="359.1" y2="571.2" stroke="#000" stroke-width="1.45"/><line x1="354" y1="541.47" x2="364.2" y2="541.47" stroke="#000" stroke-width="1.45"/><line x1="354" y1="571.2" x2="364.2" y2="571.2" stroke="#000" stroke-width="1.45"/>
<line x1="430.5" y1="577.03" x2="430.5" y2="619.59" stroke="#000" stroke-width="1.45"/><line x1="425.4" y1="577.03" x2="435.6" y2="577.03" stroke="#000" stroke-width="1.45"/><line x1="425.4" y1="619.59" x2="435.6" y2="619.59" stroke="#000" stroke-width="1.45"/>
<line x1="502" y1="593.35" x2="502" y2="623.67" stroke="#000" stroke-width="1.45"/><line x1="496.9" y1="593.35" x2="507.1" y2="593.35" stroke="#000" stroke-width="1.45"/><line x1="496.9" y1="623.67" x2="507.1" y2="623.67" stroke="#000" stroke-width="1.45"/>
<polygon points="144.7,551.2 150.16,554.35 150.16,560.65 144.7,563.8 139.24,560.65 139.24,554.35" fill="#000" stroke="#000" stroke-width="1.4"/>
<polygon points="216.3,534.58 221.76,537.73 221.76,544.03 216.3,547.18 210.84,544.03 210.84,537.73" fill="#000" stroke="#000" stroke-width="1.4"/>
<polygon points="287.8,545.08 293.26,548.23 293.26,554.53 287.8,557.68 282.34,554.53 282.34,548.23" fill="#000" stroke="#000" stroke-width="1.4"/>
<polygon points="359.1,544.2 364.56,547.35 364.56,553.65 359.1,556.8 353.64,553.65 353.64,547.35" fill="#000" stroke="#000" stroke-width="1.4"/>
<polygon points="430.5,592.59 435.96,595.74 435.96,602.04 430.5,605.19 425.04,602.04 425.04,595.74" fill="#000" stroke="#000" stroke-width="1.4"/>
<polygon points="502,603.09 507.46,606.24 507.46,612.54 502,615.69 496.54,612.54 496.54,606.24" fill="#000" stroke="#000" stroke-width="1.4"/>
<line x1="144.7" y1="540.88" x2="144.7" y2="573.82" stroke="#000" stroke-width="1.45"/><line x1="139.6" y1="540.88" x2="149.8" y2="540.88" stroke="#000" stroke-width="1.45"/><line x1="139.6" y1="573.82" x2="149.8" y2="573.82" stroke="#000" stroke-width="1.45"/>
<line x1="216.3" y1="543.51" x2="216.3" y2="563.91" stroke="#000" stroke-width="1.45"/><line x1="211.2" y1="543.51" x2="221.4" y2="543.51" stroke="#000" stroke-width="1.45"/><line x1="211.2" y1="563.91" x2="221.4" y2="563.91" stroke="#000" stroke-width="1.45"/>
<line x1="287.8" y1="547.59" x2="287.8" y2="573.82" stroke="#000" stroke-width="1.45"/><line x1="282.7" y1="547.59" x2="292.9" y2="547.59" stroke="#000" stroke-width="1.45"/><line x1="282.7" y1="573.82" x2="292.9" y2="573.82" stroke="#000" stroke-width="1.45"/>
<line x1="359.1" y1="552.84" x2="359.1" y2="575.57" stroke="#000" stroke-width="1.45"/><line x1="354" y1="552.84" x2="364.2" y2="552.84" stroke="#000" stroke-width="1.45"/><line x1="354" y1="575.57" x2="364.2" y2="575.57" stroke="#000" stroke-width="1.45"/>
<line x1="430.5" y1="557.21" x2="430.5" y2="577.03" stroke="#000" stroke-width="1.45"/><line x1="425.4" y1="557.21" x2="435.6" y2="557.21" stroke="#000" stroke-width="1.45"/><line x1="425.4" y1="577.03" x2="435.6" y2="577.03" stroke="#000" stroke-width="1.45"/>
<line x1="502" y1="552.54" x2="502" y2="579.95" stroke="#000" stroke-width="1.45"/><line x1="496.9" y1="552.54" x2="507.1" y2="552.54" stroke="#000" stroke-width="1.45"/><line x1="496.9" y1="579.95" x2="507.1" y2="579.95" stroke="#000" stroke-width="1.45"/>
<rect x="139.3" y="552.1" width="10.8" height="10.8" fill="#fff" stroke="#000" stroke-width="1.4"/>
<rect x="210.9" y="548.31" width="10.8" height="10.8" fill="#fff" stroke="#000" stroke-width="1.4"/>
<rect x="282.4" y="555.31" width="10.8" height="10.8" fill="#fff" stroke="#000" stroke-width="1.4"/>
<rect x="353.7" y="553.41" width="10.8" height="10.8" fill="#fff" stroke="#000" stroke-width="1.4"/>
<rect x="425.1" y="562.3" width="10.8" height="10.8" fill="#fff" stroke="#000" stroke-width="1.4"/>
<rect x="496.6" y="561.14" width="10.8" height="10.8" fill="#fff" stroke="#000" stroke-width="1.4"/>
<line x1="105.3" y1="693" x2="137.6" y2="693" stroke="#000" stroke-width="1.8"/>
<polygon points="121.6,686.1 127.8,696.8 115.4,696.8" fill="#000" stroke="#000" stroke-width="1.4"/>
<text class="t" x="145.0" y="697.8" font-size="16.4">HS Sultan</text>
<line x1="105.3" y1="714.1" x2="137.6" y2="714.1" stroke="#000" stroke-width="1.8"/>
<polygon points="121.6,707.3 128.4,714.1 121.6,720.9 114.8,714.1" fill="#bcbcbc" stroke="#000" stroke-width="1.4"/>
<text class="t" x="145.0" y="718.9" font-size="16.4">IM-9</text>
<line x1="105.3" y1="735.2" x2="137.6" y2="735.2" stroke="#000" stroke-width="1.8"/>
<polygon points="121.8,728.9 127.26,732.05 127.26,738.35 121.8,741.5 116.34,738.35 116.34,732.05" fill="#000" stroke="#000" stroke-width="1.4"/>
<text class="t" x="145.0" y="740" font-size="16.4">ARH-77</text>
<line x1="105.3" y1="756.1" x2="144.3" y2="756.1" stroke="#000" stroke-width="1.8"/>
<rect x="119.5" y="750.7" width="10.8" height="10.8" fill="#fff" stroke="#000" stroke-width="1.4"/>
<text class="t" x="152.4" y="760.9" font-size="16.4">Normal B cells</text>
</svg></body></html>
